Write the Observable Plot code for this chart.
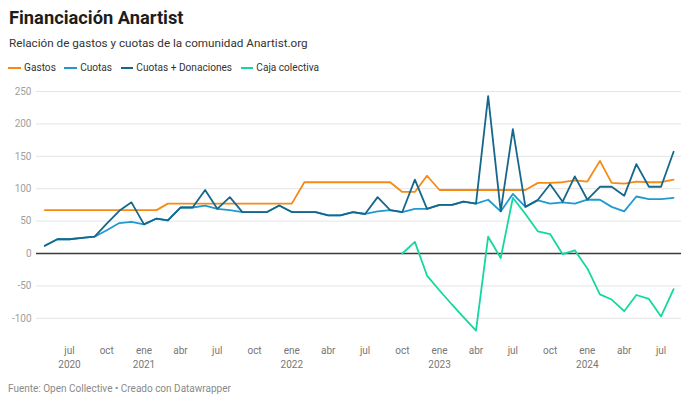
<!DOCTYPE html>
<html><head><meta charset="utf-8">
<script src="https://cdn.jsdelivr.net/npm/d3@7"></script>
<script src="https://cdn.jsdelivr.net/npm/@observablehq/plot@0.6"></script>
<style>
body{margin:0;background:#fff;font-family:Roboto,"Noto Sans",sans-serif;}
#wrap{width:690px;height:403px;position:relative;overflow:hidden;background:#fff}
#head{height:80px;position:relative}
.title{position:absolute;left:9px;top:8.8px;font-size:18.3px;line-height:18px;font-weight:700;color:#1d1d1d;white-space:nowrap}
.sub{position:absolute;left:9px;top:36.8px;font-size:11.7px;line-height:12px;color:#333;white-space:nowrap}
.legend{position:absolute;left:8.3px;top:62.4px;display:flex;align-items:center;height:12px;font-size:10.1px;line-height:12px;color:#333;white-space:nowrap}
.item{display:flex;align-items:center;margin-right:8.5px}
.sw{width:12.5px;height:2.2px;margin-right:3.3px}
#chart svg{display:block}
.cap{margin-top:3px;padding-left:8px;font-size:10px;line-height:12px;color:#8a8a8a;white-space:nowrap}
</style></head>
<body>
<div id="wrap">
  <div id="head">
    <div class="title">Financiación Anartist</div>
    <div class="sub">Relación de gastos y cuotas de la comunidad Anartist.org</div>
    <div class="legend" id="legend"></div>
  </div>
  <div id="chart"></div>
  <div class="cap">Fuente: Open Collective • Creado con Datawrapper</div>
</div>
<script>
// Months (first day of each month)
const months = ["2020-05","2020-06","2020-07","2020-08","2020-09","2020-10","2020-11","2020-12",
"2021-01","2021-02","2021-03","2021-04","2021-05","2021-06","2021-07","2021-08","2021-09","2021-10","2021-11","2021-12",
"2022-01","2022-02","2022-03","2022-04","2022-05","2022-06","2022-07","2022-08","2022-09","2022-10","2022-11","2022-12",
"2023-01","2023-02","2023-03","2023-04","2023-05","2023-06","2023-07","2023-08","2023-09","2023-10","2023-11","2023-12",
"2024-01","2024-02","2024-03","2024-04","2024-05","2024-06","2024-07","2024-08"];

const gastos = [67,67,67,67,67,67,67,67,67,67,
77,77,77,77,77,77,77,77,77,77,77,
110,110,110,110,110,110,110,110,
95,95,120,
98,98,98,98,98,98,98,98,
109,109,110,113,111,143,109,108,111,110,110,114];

const cuotas = [12,22,22,24,26,36,47,49,45,54,51,71,71,74,69,67,64,64,64,74,64,64,64,59,59,64,61,65,67,64,69,69,75,75,80,77,83,65,92,72,82,77,79,77,83,83,72,65,88,84,84,86];

const cuotasDonaciones = [12,22,22,24,26,46,66,79,45,54,51,71,71,98,69,87,64,64,64,74,64,64,64,59,59,64,61,87,67,64,114,69,75,75,80,77,243,65,192,72,83,107,80,119,83,103,103,89,138,103,103,157];

const cajaColectiva = [null,null,null,null,null,null,null,null,null,null,null,null,null,null,null,null,null,null,null,null,null,null,null,null,null,null,null,null,null,
0,18,-34,-57,-79,-98,-119,26,-7,86,61,34,30,-1,5,-23,-63,-71,-89,-64,-70,-97,-55];

const seriesNames = ["Gastos","Cuotas","Cuotas + Donaciones","Caja colectiva"];
const seriesColors = ["#f68a15","#1f9ad0","#16678c","#14d89f"];

const tickMonths = ["2020-07","2020-10","2021-01","2021-04","2021-07","2021-10","2022-01","2022-04","2022-07","2022-10","2023-01","2023-04","2023-07","2023-10","2024-01","2024-04","2024-07"];
const tickLabels = ["jul\n2020","oct","ene\n2021","abr","jul","oct","ene\n2022","abr","jul","oct","ene\n2023","abr","jul","oct","ene\n2024","abr","jul"];

const yTicks = [-100,-50,50,100,150,200,250];

const toDate = s => new Date(s + "-01T00:00:00Z");
const data = months.map((m,i) => ({date: toDate(m), gastos: gastos[i], cuotas: cuotas[i], cd: cuotasDonaciones[i], caja: cajaColectiva[i]}));
const labelMap = new Map(tickMonths.map((m,i)=>[m, tickLabels[i]]));

// legend
const leg = document.getElementById("legend");
seriesNames.forEach((n,i)=>{
  const it = document.createElement("div"); it.className="item";
  const sw = document.createElement("div"); sw.className="sw"; sw.style.background=seriesColors[i];
  const t = document.createElement("span"); t.textContent=n;
  it.appendChild(sw); it.appendChild(t); leg.appendChild(it);
});

const sw = 1.8;
const chart = Plot.plot({
  width: 690, height: 300,
  marginLeft: 36, marginRight: 9, marginTop: 11, marginBottom: 49.2,
  insetLeft: 8.3, insetRight: 7.9,
  style: {fontFamily: "Roboto, sans-serif", background: "transparent"},
  x: {type: "utc", domain: [toDate(months[0]), toDate(months[months.length-1])]},
  y: {domain: [-120, 250]},
  marks: [
    Plot.ruleY(yTicks, {stroke: "#e5e5e5", strokeWidth: 1}),
    Plot.axisY({ticks: yTicks.concat([0]), tickSize: 0, tickPadding: 5, fontSize: 10, color: "#a0a0a0", label: null, tickFormat: d => String(d)}),
    Plot.axisX({ticks: tickMonths.map(toDate), tickSize: 0, tickPadding: 13, fontSize: 10, color: "#777", label: null, lineHeight: 1.4,
      tickFormat: d => labelMap.get(d.toISOString().slice(0,7))}),
    Plot.ruleY([0], {stroke: "#3a3a3a", strokeWidth: 1.6}),
    Plot.lineY(data, {x: "date", y: "gastos", stroke: seriesColors[0], strokeWidth: sw}),
    Plot.lineY(data, {x: "date", y: "cuotas", stroke: seriesColors[1], strokeWidth: sw}),
    Plot.lineY(data, {x: "date", y: "cd", stroke: seriesColors[2], strokeWidth: sw}),
    Plot.lineY(data, {x: "date", y: "caja", stroke: seriesColors[3], strokeWidth: sw})
  ]
});
document.getElementById("chart").appendChild(chart);
</script>
</body></html>
